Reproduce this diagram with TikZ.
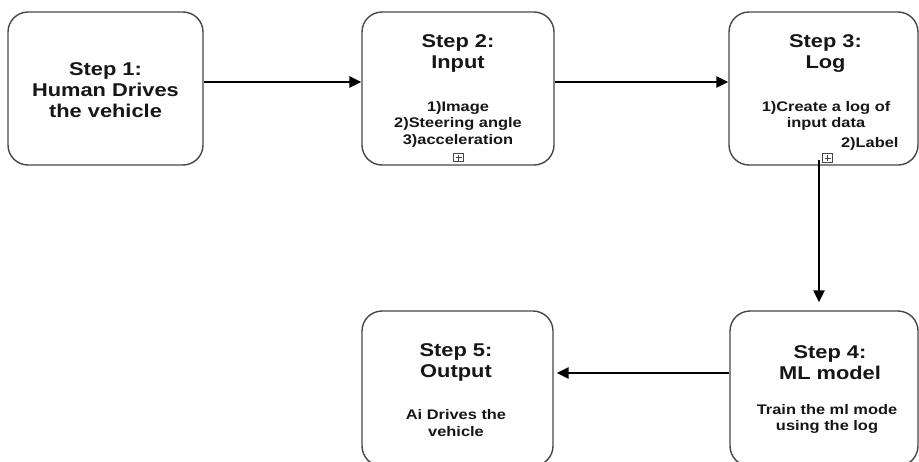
\documentclass[tikz,border=0pt]{standalone}
\usepackage{fontspec}
\setmainfont{Liberation Sans}[FakeStretch=1.18]
\usetikzlibrary{arrows.meta}
\definecolor{boxgray}{HTML}{474747}
\definecolor{inkgray}{HTML}{161616}
\tikzset{
  stepbox/.style={draw=boxgray, line width=1.4pt, rounded corners=20pt, inner sep=0pt},
  titletext/.style={align=center, text=inkgray, font=\fontsize{18.5}{21}\selectfont\bfseries},
  bodytext/.style={align=center, text=inkgray, font=\fontsize{13.9}{16.5}\selectfont\bfseries},
  plusbox/.style={draw=boxgray, line width=0.6pt, minimum width=10pt, minimum height=8.5pt, inner sep=0pt},
  flow/.style={draw=black, line width=2.9pt, -{Triangle[length=12pt,width=11pt]}}
}
\begin{document}
\begin{tikzpicture}[x=1pt,y=-1pt]
\useasboundingbox (0,0) rectangle (919,461);
\clip (0,0) rectangle (919,461);
% boxes
\node[stepbox, minimum width=195pt, minimum height=153pt] (s1) at (105.5,88.5) {};
\node[stepbox, minimum width=192pt, minimum height=153pt] (s2) at (458,88.5) {};
\node[stepbox, minimum width=189pt, minimum height=153pt] (s3) at (823.5,88.5) {};
\node[stepbox, minimum width=188pt, minimum height=155pt] (s4) at (824,388.5) {};
\node[stepbox, minimum width=191pt, minimum height=155pt] (s5) at (457.5,388.5) {};
% texts
\node[titletext] (t1) at (105.5,90) {Step 1:\\Human Drives\\the vehicle};
\node[titletext] (t2) at (458,53) {Step 2:\\Input};
\node[bodytext] (b2) at (458,124) {1)Image\\2)Steering angle\\3)acceleration};
\node[titletext] (t3) at (825.5,53) {Step 3:\\Log};
\node[bodytext] (b3) at (826,116) {1)Create a log of\\input data};
\node[bodytext, anchor=base east] (l3) at (902,147) {2)Label};
\node[titletext] (t4) at (830,363) {Step 4:\\ML model};
\node[bodytext] (b4) at (827,419) {Train the ml mode\\using the log};
\node[titletext] (t5) at (456,362) {Step 5:\\Output};
\node[bodytext] (b5) at (456,423) {Ai Drives the\\vehicle};
% expand markers
\node[plusbox] (i2) at (458.5,157.5) {};
\draw[boxgray, line width=0.6pt] (i2.center) +(-3,0) -- +(3,0) (i2.center) +(0,-3) -- +(0,3);
\node[plusbox] (i3) at (827.5,158) {};
\draw[boxgray, line width=0.6pt] (i3.center) +(-3,0) -- +(3,0) (i3.center) +(0,-3) -- +(0,3);
% arrows
\coordinate (d3) at (819,160);
\draw[flow] ([yshift=6.5pt]s1.east) -- ([yshift=6.5pt]s2.west);
\draw[flow] ([yshift=6.5pt]s2.east) -- ([yshift=6.5pt]s3.west);
\draw[flow, shorten >=8pt] (d3) -- (d3 |- s4.north);
\draw[flow, shorten >=3pt] ([yshift=15.5pt]s4.west) -- ([yshift=15.5pt]s5.east);
\end{tikzpicture}
\end{document}
